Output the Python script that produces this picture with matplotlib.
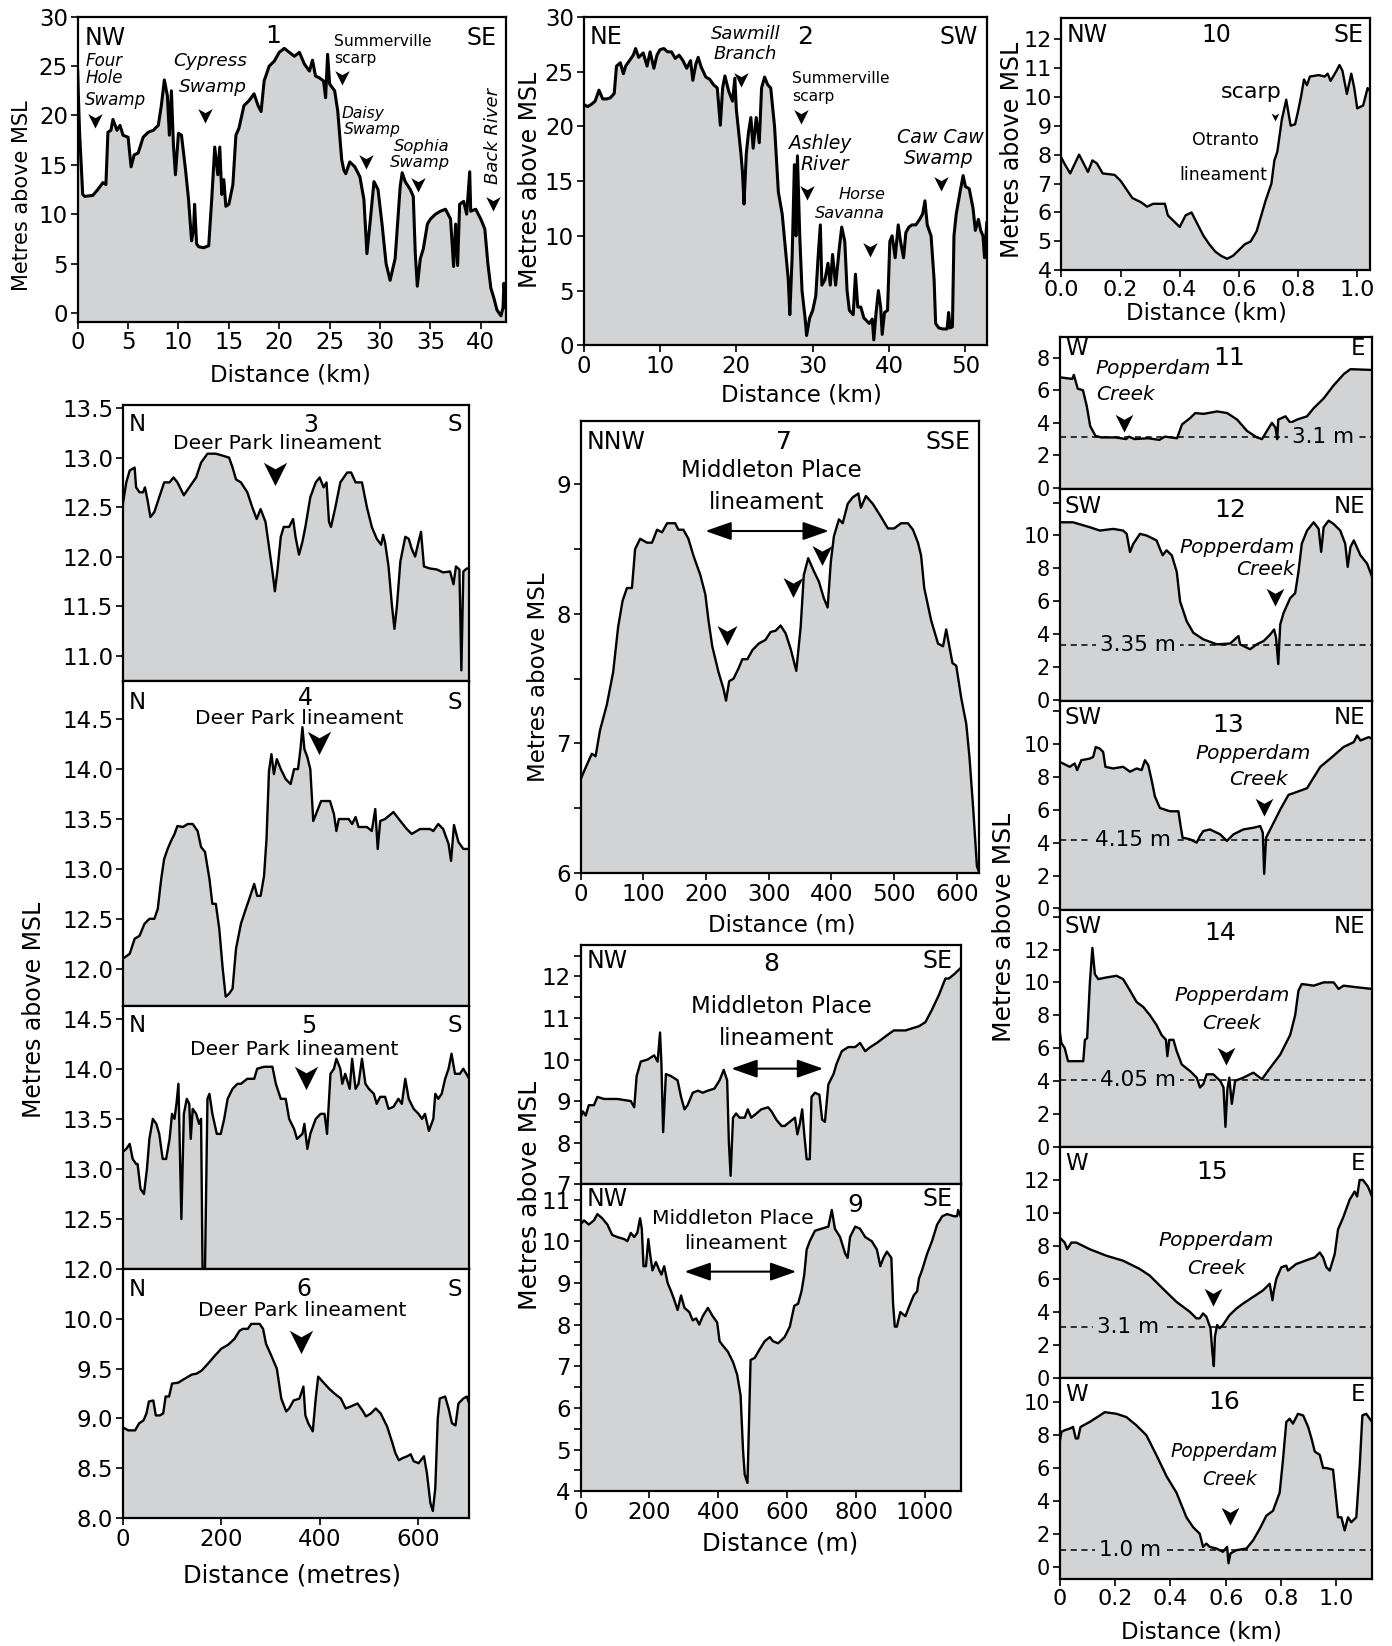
import matplotlib
matplotlib.use("Agg")
import matplotlib.pyplot as plt
from matplotlib.path import Path
from matplotlib.ticker import MultipleLocator, FormatStrFormatter

plt.rcParams['font.family'] = ['DejaVu Sans']

FILL = '#d1d3d4'

# elevation profiles: (distance, metres above MSL)
p1 = [(0, 24.5), (0.1, 21), (0.2, 18), (0.5, 12), (0.7, 11.8), (1.5, 11.9), (2.0, 12.5), (2.5, 13.2), (2.8, 13),
      (3.0, 18.3), (3.3, 18.5), (3.5, 19.6), (3.9, 18.5), (4.2, 19), (4.5, 18), (5.0, 17.8), (5.3, 14.8), (5.6, 16),
      (6.0, 16.2), (6.5, 17.8), (7.0, 18.3), (7.5, 18.5), (8.0, 19.0), (8.3, 21), (8.6, 23.6), (8.9, 22), (9.1, 18),
      (9.3, 22.5), (9.5, 17), (9.7, 14), (10.0, 18.2), (10.3, 18), (10.7, 14.5), (11.0, 11.5), (11.3, 7.3),
      (11.5, 8.5), (11.6, 11.0), (11.8, 7), (12.0, 6.7), (12.5, 6.6), (13.0, 6.8), (13.3, 11.5), (13.6, 16.8),
      (13.9, 14), (14.1, 16.8), (14.3, 12), (14.5, 13.5), (14.7, 10.8), (15.0, 11), (15.4, 13), (15.7, 18),
      (16.0, 18.7), (16.5, 21), (17.0, 21.5), (17.5, 22.2), (17.9, 21), (18.2, 20.4), (18.5, 23.5), (19.0, 25),
      (19.5, 25.5), (20.0, 26.4), (20.5, 26.8), (21.0, 26.4), (21.5, 26.0), (22.0, 26.4), (22.5, 25.2), (23.0, 24.5),
      (23.3, 25.6), (23.6, 24), (24.0, 23.8), (24.4, 23.5), (24.6, 21.8), (24.8, 26.2), (25.0, 23.2), (25.5, 22.5),
      (25.8, 20.5), (26.0, 18), (26.2, 15.5), (26.4, 14.5), (26.6, 14.1), (27.0, 15.3), (27.5, 14.8), (28.0, 13.8),
      (28.4, 11.5), (28.7, 6), (29.0, 9), (29.4, 13.3), (29.8, 12.5), (30.2, 9), (30.6, 5), (31.0, 3.3), (31.5, 5.5),
      (32.0, 12.8), (32.2, 14.2), (32.5, 13.3), (33.0, 12.5), (33.3, 11.8), (33.5, 6), (33.7, 2.7), (34.0, 5.5),
      (34.3, 6.5), (34.7, 9), (35.0, 9.5), (35.5, 10), (36.0, 10.3), (36.5, 10.5), (37.0, 9.5), (37.3, 4.7),
      (37.5, 9), (37.7, 4.8), (37.9, 11), (38.3, 11.3), (38.6, 10), (38.9, 14.3), (39.0, 10.3), (39.5, 10.5),
      (40.0, 9.5), (40.4, 8.5), (40.7, 5), (41.0, 2.5), (41.3, 1.5), (41.6, 0.3), (42.0, -0.3), (42.2, 0.5),
      (42.3, 3.0), (42.5, 0.5)]

p2 = [(0, 22), (0.5, 21.8), (1.0, 22), (1.5, 22.3), (2.0, 23.3), (2.5, 22.5), (3.0, 22.5), (3.5, 22.6), (4.0, 23),
      (4.3, 25.5), (4.8, 25.8), (5.2, 24.8), (5.5, 25.5), (6.0, 26), (6.5, 26.5), (6.8, 27.1), (7.2, 26.3),
      (7.8, 26.7), (8.3, 25.5), (8.7, 26.8), (9.2, 25.3), (9.6, 26.5), (10.0, 27), (10.5, 27.1), (11.0, 26.8),
      (11.5, 26.8), (12.0, 26.2), (12.5, 26.5), (13.0, 26), (13.5, 25.3), (14.0, 26), (14.3, 24.2), (14.7, 25.7),
      (15.0, 26.3), (15.4, 25.4), (16.0, 24.5), (16.5, 24.3), (17.0, 23.8), (17.5, 23.5), (17.9, 20.1), (18.2, 23.5),
      (18.5, 24.6), (19.0, 23.2), (19.5, 22.3), (19.8, 24.4), (20.0, 21.5), (20.3, 19.5), (20.6, 17.5), (20.8, 15.8),
      (21.0, 12.9), (21.3, 17.5), (21.6, 19.5), (21.9, 20.8), (22.2, 18), (22.6, 20.8), (23.0, 18.5), (23.3, 23.5),
      (23.7, 24.5), (24.1, 23.8), (24.5, 23.5), (25.0, 20), (25.5, 14), (26.0, 12), (26.4, 9), (26.8, 6), (27.0, 2.8),
      (27.3, 8), (27.6, 16.5), (27.8, 10), (28.0, 17.3), (28.3, 10), (28.6, 5), (29.0, 2.5), (29.2, 0.9), (29.6, 2.5),
      (30.0, 3.2), (30.4, 4.5), (30.7, 8), (31.0, 11), (31.2, 5.5), (31.6, 6), (32.0, 7.5), (32.3, 5.5), (32.6, 8.3),
      (33.0, 5.5), (33.5, 9), (33.8, 10.8), (34.2, 9.5), (34.5, 5), (34.8, 3.2), (35.3, 2.8), (35.6, 6.5),
      (35.9, 3.5), (36.3, 3.5), (36.7, 2.5), (37.0, 2.3), (37.4, 2), (37.8, 2.4), (38.0, 0.5), (38.3, 3), (38.6, 5),
      (38.9, 3.5), (39.1, 1), (39.4, 3), (39.8, 3.2), (40.1, 9.5), (40.4, 10), (40.8, 8), (41.2, 11), (41.5, 9.5),
      (41.9, 8), (42.2, 10.3), (42.6, 10.8), (43.0, 11), (43.5, 11), (44.0, 11.5), (44.4, 12), (44.7, 13.2),
      (45.0, 11), (45.5, 10), (45.9, 6), (46.1, 2), (46.5, 1.6), (47.0, 1.5), (47.6, 1.5), (47.8, 3), (48.0, 1.6),
      (48.3, 1.7), (48.5, 10), (48.8, 12), (49.3, 14), (49.7, 15.5), (50.0, 14.5), (50.5, 14.3), (51.0, 12.5),
      (51.3, 10.5), (51.7, 11.5), (52.0, 10.5), (52.3, 10), (52.5, 8), (52.8, 11.2)]

p3 = [(0, 12.53), (7, 12.75), (14, 12.87), (24, 12.9), (27, 12.7), (34, 12.65), (41, 12.65), (45, 12.7), (51, 12.55),
      (56, 12.4), (64, 12.45), (74, 12.6), (84, 12.75), (95, 12.75), (103, 12.8), (111, 12.75), (124, 12.62),
      (135, 12.7), (149, 12.8), (159, 12.95), (172, 13.04), (189, 13.04), (203, 13.02), (216, 13.0), (223, 12.9),
      (230, 12.78), (240, 12.75), (253, 12.65), (263, 12.5), (272, 12.38), (280, 12.48), (290, 12.35), (297, 12.1),
      (304, 11.85), (309, 11.65), (314, 11.85), (321, 12.2), (327, 12.3), (338, 12.3), (346, 12.38), (351, 12.2),
      (358, 12.02), (365, 12.15), (371, 12.3), (381, 12.6), (392, 12.75), (400, 12.8), (408, 12.7), (414, 12.75),
      (419, 12.35), (423, 12.3), (432, 12.5), (442, 12.75), (456, 12.85), (464, 12.85), (473, 12.75), (486, 12.75),
      (496, 12.5), (506, 12.3), (516, 12.18), (525, 12.12), (529, 12.22), (533, 12.14), (540, 11.9), (547, 11.5),
      (552, 11.27), (557, 11.5), (564, 11.95), (574, 12.2), (581, 12.18), (587, 12.08), (594, 12.0), (601, 12.15),
      (606, 12.25), (612, 11.9), (624, 11.88), (638, 11.87), (651, 11.84), (665, 11.85), (672, 11.72), (677, 11.9),
      (684, 11.87), (688, 10.85), (692, 11.85), (699, 11.88), (704, 11.88)]

p4 = [(0, 12.1), (14, 12.15), (24, 12.3), (34, 12.33), (44, 12.45), (54, 12.5), (64, 12.5), (71, 12.6), (78, 12.9),
      (84, 13.1), (91, 13.2), (98, 13.28), (105, 13.35), (111, 13.43), (122, 13.42), (132, 13.45), (142, 13.45),
      (152, 13.38), (159, 13.22), (167, 13.17), (176, 12.9), (182, 12.65), (189, 12.65), (196, 12.4), (203, 12.0),
      (209, 11.72), (216, 11.75), (223, 11.8), (230, 12.2), (240, 12.45), (250, 12.6), (257, 12.7), (267, 12.85),
      (273, 12.73), (280, 12.73), (287, 12.93), (292, 13.3), (297, 13.98), (302, 14.15), (307, 13.95), (313, 14.1),
      (321, 14.0), (331, 13.9), (341, 13.85), (348, 14.0), (356, 14.0), (361, 14.2), (365, 14.42), (369, 14.2),
      (375, 14.12), (381, 14.0), (387, 13.48), (395, 13.58), (403, 13.68), (412, 13.68), (421, 13.68), (429, 13.55),
      (434, 13.38), (439, 13.5), (459, 13.5), (466, 13.45), (473, 13.52), (479, 13.42), (496, 13.42), (506, 13.38),
      (513, 13.6), (518, 13.2), (523, 13.48), (533, 13.5), (550, 13.57), (564, 13.48), (577, 13.4), (587, 13.35),
      (604, 13.4), (624, 13.4), (631, 13.38), (641, 13.45), (651, 13.4), (662, 13.25), (667, 13.08), (673, 13.44),
      (682, 13.27), (692, 13.2), (704, 13.2)]

p5 = [(0, 13.17), (7, 13.2), (14, 13.25), (20, 13.1), (27, 13.05), (30, 13.05), (36, 12.8), (43, 12.75), (49, 13.0),
      (54, 13.3), (61, 13.5), (68, 13.45), (74, 13.35), (81, 13.1), (88, 13.1), (95, 13.3), (100, 13.55), (105, 13.5),
      (109, 13.65), (113, 13.85), (119, 12.5), (124, 13.55), (130, 13.7), (135, 13.65), (138, 13.3), (142, 13.6),
      (149, 13.55), (155, 13.45), (159, 13.5), (162, 12.0), (167, 12.0), (172, 13.7), (176, 13.75), (182, 13.55),
      (191, 13.35), (199, 13.35), (206, 13.5), (213, 13.7), (223, 13.8), (233, 13.85), (240, 13.85), (253, 13.9),
      (267, 13.9), (273, 14.0), (287, 14.02), (304, 14.02), (311, 13.85), (321, 13.7), (331, 13.7), (338, 13.5),
      (348, 13.4), (354, 13.3), (365, 13.35), (369, 13.45), (375, 13.2), (381, 13.35), (392, 13.5), (402, 13.55),
      (410, 13.55), (415, 13.35), (422, 13.95), (429, 14.0), (434, 14.1), (442, 14.0), (446, 13.85), (452, 13.95),
      (461, 13.8), (466, 14.1), (473, 13.8), (479, 13.85), (486, 14.1), (493, 13.85), (500, 13.8), (510, 13.75),
      (516, 13.65), (523, 13.72), (533, 13.72), (540, 13.6), (550, 13.62), (560, 13.7), (567, 13.65), (574, 13.9),
      (581, 13.7), (591, 13.6), (601, 13.55), (608, 13.5), (614, 13.55), (622, 13.38), (631, 13.5), (635, 13.75),
      (641, 13.7), (648, 13.75), (655, 13.9), (662, 14.0), (668, 14.15), (675, 13.95), (685, 13.95), (692, 14.0),
      (704, 13.9)]

p6 = [(0, 8.91), (11, 8.88), (25, 8.88), (33, 8.95), (42, 8.98), (48, 9.05), (53, 9.17), (62, 9.18), (67, 9.03),
      (75, 9.03), (82, 9.05), (87, 9.22), (94, 9.22), (100, 9.35), (113, 9.36), (126, 9.4), (140, 9.44), (150, 9.45),
      (160, 9.48), (173, 9.55), (187, 9.63), (200, 9.7), (214, 9.74), (227, 9.8), (237, 9.88), (244, 9.9), (254, 9.9),
      (261, 9.95), (278, 9.95), (285, 9.9), (291, 9.75), (300, 9.65), (313, 9.5), (322, 9.2), (332, 9.07), (338, 9.1),
      (347, 9.18), (359, 9.2), (367, 9.32), (371, 9.03), (377, 8.95), (386, 8.87), (392, 9.2), (397, 9.42),
      (406, 9.37), (419, 9.3), (430, 9.25), (443, 9.2), (453, 9.1), (463, 9.12), (477, 9.15), (487, 9.08),
      (494, 9.02), (504, 9.05), (514, 9.1), (524, 9.05), (537, 8.92), (548, 8.75), (554, 8.65), (561, 8.58),
      (568, 8.6), (578, 8.62), (585, 8.64), (591, 8.57), (601, 8.55), (612, 8.62), (618, 8.45), (625, 8.15),
      (630, 8.07), (635, 8.3), (640, 9.0), (644, 9.2), (655, 9.22), (662, 9.1), (669, 8.95), (676, 8.93), (682, 9.15),
      (692, 9.2), (699, 9.22), (704, 9.15)]

p7 = [(0, 6.72), (7, 6.8), (18, 6.92), (24, 6.9), (31, 7.1), (42, 7.3), (52, 7.55), (60, 7.9), (67, 8.1), (74, 8.2),
      (82, 8.2), (87, 8.5), (95, 8.58), (106, 8.55), (114, 8.55), (122, 8.65), (130, 8.63), (138, 8.7), (151, 8.7),
      (156, 8.65), (164, 8.65), (172, 8.58), (180, 8.45), (191, 8.3), (199, 8.15), (204, 7.95), (210, 7.75),
      (220, 7.55), (228, 7.42), (232, 7.33), (237, 7.48), (244, 7.5), (252, 7.58), (258, 7.65), (266, 7.65),
      (274, 7.72), (284, 7.77), (295, 7.8), (303, 7.86), (311, 7.87), (319, 7.91), (327, 7.85), (335, 7.73),
      (344, 7.56), (351, 7.9), (356, 8.3), (363, 8.43), (372, 8.33), (380, 8.25), (388, 8.12), (394, 8.05), (399, 8.4),
      (404, 8.6), (412, 8.73), (418, 8.7), (426, 8.85), (434, 8.9), (443, 8.93), (447, 8.82), (455, 8.91),
      (466, 8.85), (479, 8.75), (490, 8.66), (500, 8.66), (511, 8.7), (522, 8.7), (530, 8.65), (538, 8.55),
      (543, 8.45), (548, 8.2), (559, 7.95), (570, 7.77), (578, 7.75), (583, 7.88), (588, 7.75), (593, 7.62),
      (599, 7.6), (607, 7.35), (615, 7.15), (620, 6.9), (626, 6.5), (632, 6.05), (636, 6.0)]

p8 = [(0, 8.6), (7, 8.75), (15, 8.65), (24, 8.9), (39, 8.9), (49, 9.1), (68, 9.05), (107, 9.05), (146, 9.0),
      (156, 8.85), (163, 9.6), (175, 9.95), (195, 10.0), (214, 10.1), (224, 9.95), (231, 10.65), (235, 9.9),
      (240, 8.25), (248, 9.65), (263, 9.6), (282, 9.5), (292, 9.1), (302, 8.8), (311, 8.9), (326, 9.2), (341, 9.25),
      (355, 9.2), (370, 9.25), (389, 9.3), (404, 9.5), (416, 9.75), (426, 9.5), (431, 8.0), (436, 7.2), (443, 8.6),
      (452, 8.7), (462, 8.6), (477, 8.6), (486, 8.8), (496, 8.6), (511, 8.7), (525, 8.8), (545, 8.85), (555, 8.75),
      (569, 8.55), (584, 8.4), (593, 8.4), (608, 8.5), (623, 8.6), (630, 8.2), (637, 8.45), (644, 8.8), (650, 8.2),
      (657, 7.6), (666, 7.6), (671, 9.1), (681, 9.2), (694, 9.15), (702, 8.55), (710, 8.5), (720, 9.4), (735, 9.65),
      (744, 9.9), (759, 10.2), (778, 10.3), (798, 10.3), (812, 10.4), (827, 10.2), (842, 10.3), (861, 10.4),
      (885, 10.55), (910, 10.7), (924, 10.7), (944, 10.7), (963, 10.75), (983, 10.8), (1002, 10.9), (1021, 11.2),
      (1041, 11.55), (1060, 11.95), (1070, 11.95), (1085, 12.05), (1104, 12.2)]

p9 = [(0, 10.4), (10, 10.5), (24, 10.4), (39, 10.5), (49, 10.65), (63, 10.55), (78, 10.4), (92, 10.15), (107, 10.1),
      (127, 10.05), (136, 10.0), (146, 10.2), (156, 10.1), (165, 10.2), (173, 10.55), (178, 10.3), (183, 9.4),
      (190, 9.4), (197, 10.05), (202, 9.7), (209, 9.3), (219, 9.5), (229, 9.3), (235, 9.2), (243, 9.4), (253, 9.0),
      (263, 8.8), (272, 8.6), (282, 8.35), (292, 8.7), (302, 8.4), (316, 8.3), (326, 8.1), (336, 8.15), (345, 8.0),
      (355, 8.2), (370, 8.4), (384, 8.2), (397, 8.05), (404, 7.6), (413, 7.5), (428, 7.35), (443, 7.1), (455, 6.8),
      (465, 6.3), (472, 5.0), (477, 4.4), (485, 4.2), (489, 5.5), (494, 7.15), (506, 7.2), (520, 7.4), (535, 7.6),
      (550, 7.7), (559, 7.6), (574, 7.55), (593, 7.7), (608, 7.95), (621, 8.45), (632, 8.5), (642, 8.8), (650, 9.2),
      (657, 9.8), (666, 10.0), (681, 10.25), (700, 10.3), (720, 10.35), (730, 10.75), (739, 10.3), (754, 10.1),
      (769, 9.7), (776, 9.6), (783, 10.1), (798, 10.35), (812, 10.3), (827, 10.1), (846, 10.0), (861, 9.8),
      (871, 9.4), (880, 9.6), (890, 9.75), (903, 9.6), (908, 8.5), (913, 7.95), (919, 7.95), (929, 8.3), (944, 8.2),
      (953, 8.4), (968, 8.7), (978, 8.8), (983, 9.1), (992, 9.3), (1007, 9.7), (1021, 10.0), (1036, 10.4),
      (1051, 10.6), (1065, 10.65), (1085, 10.6), (1094, 10.6), (1097, 10.75), (1104, 10.6)]

p10 = [(0, 7.9), (0.01, 7.7), (0.03, 7.35), (0.06, 8.0), (0.08, 7.6), (0.09, 7.4), (0.105, 7.8), (0.12, 7.7),
       (0.14, 7.35), (0.18, 7.3), (0.2, 7.1), (0.22, 6.8), (0.24, 6.5), (0.27, 6.35), (0.29, 6.2), (0.31, 6.3),
       (0.35, 6.3), (0.36, 5.9), (0.38, 5.7), (0.40, 5.5), (0.42, 5.9), (0.44, 6.0), (0.46, 5.6), (0.48, 5.2),
       (0.50, 4.9), (0.52, 4.65), (0.54, 4.5), (0.56, 4.4), (0.58, 4.5), (0.60, 4.7), (0.62, 4.9), (0.64, 5.0),
       (0.66, 5.35), (0.67, 5.7), (0.69, 6.4), (0.71, 7.0), (0.72, 7.8), (0.73, 8.1), (0.745, 9.2), (0.76, 9.9),
       (0.775, 9.0), (0.79, 9.05), (0.80, 9.5), (0.81, 10.0), (0.82, 10.6), (0.83, 10.4), (0.84, 10.7), (0.87, 10.75),
       (0.89, 10.7), (0.90, 10.8), (0.91, 10.55), (0.93, 10.9), (0.94, 11.1), (0.95, 10.9), (0.965, 10.1),
       (0.98, 10.8), (0.99, 10.3), (1.00, 9.6), (1.02, 9.7), (1.035, 10.3), (1.043, 10.2)]

p11 = [(0, 6.8), (0.045, 6.7), (0.051, 6.95), (0.065, 6.1), (0.084, 6.0), (0.098, 5.0), (0.11, 3.8), (0.129, 3.2),
       (0.15, 3.1), (0.2, 3.1), (0.24, 3.0), (0.25, 3.15), (0.27, 3.0), (0.32, 3.05), (0.36, 2.95), (0.38, 3.15),
       (0.424, 3.05), (0.442, 3.9), (0.472, 4.3), (0.49, 4.6), (0.52, 4.55), (0.569, 4.7), (0.605, 4.6), (0.641, 4.2),
       (0.677, 3.5), (0.713, 3.1), (0.731, 3.0), (0.749, 3.5), (0.767, 4.0), (0.78, 3.7), (0.786, 3.0), (0.79, 4.2),
       (0.816, 4.4), (0.834, 4.0), (0.858, 4.2), (0.894, 4.4), (0.918, 4.9), (0.954, 5.5), (0.99, 6.3), (1.027, 7.0),
       (1.051, 7.3), (1.129, 7.25)]

p12 = [(0, 10.8), (0.048, 10.8), (0.109, 10.5), (0.145, 10.3), (0.193, 10.4), (0.229, 10.3), (0.242, 10.1),
       (0.254, 9.0), (0.266, 9.5), (0.290, 10.1), (0.314, 10.0), (0.350, 9.7), (0.362, 9.2), (0.372, 8.8),
       (0.386, 9.1), (0.405, 8.8), (0.423, 7.8), (0.435, 6.0), (0.459, 4.8), (0.483, 4.1), (0.519, 3.7), (0.568, 3.4),
       (0.616, 3.45), (0.646, 3.9), (0.652, 3.4), (0.688, 3.1), (0.712, 3.4), (0.737, 3.6), (0.761, 4.0), (0.775, 4.3),
       (0.782, 3.8), (0.790, 2.2), (0.797, 4.6), (0.809, 5.3), (0.833, 6.2), (0.851, 6.5), (0.863, 7.8), (0.875, 9.5),
       (0.894, 10.3), (0.918, 10.8), (0.936, 10.4), (0.945, 9.0), (0.954, 10.5), (0.972, 10.9), (0.990, 10.7),
       (1.014, 10.3), (1.032, 9.5), (1.041, 8.1), (1.051, 9.3), (1.063, 9.7), (1.087, 8.8), (1.111, 8.3), (1.129, 7.5)]

p13 = [(0, 8.9), (0.036, 8.6), (0.054, 8.8), (0.063, 8.4), (0.078, 9.0), (0.109, 9.1), (0.121, 9.2), (0.130, 9.8),
       (0.145, 9.7), (0.157, 9.5), (0.165, 8.6), (0.193, 8.5), (0.229, 8.6), (0.254, 8.3), (0.278, 8.5), (0.296, 8.4),
       (0.308, 9.0), (0.320, 8.7), (0.332, 7.8), (0.344, 6.8), (0.362, 6.1), (0.398, 5.9), (0.429, 5.9), (0.437, 5.0),
       (0.444, 4.3), (0.471, 4.2), (0.495, 4.0), (0.507, 4.4), (0.519, 4.7), (0.543, 4.8), (0.580, 4.5), (0.604, 4.1),
       (0.628, 4.5), (0.664, 4.8), (0.700, 4.9), (0.725, 5.0), (0.734, 4.6), (0.739, 2.1), (0.746, 4.3), (0.767, 5.0),
       (0.797, 6.0), (0.827, 6.9), (0.845, 7.0), (0.894, 7.3), (0.942, 8.6), (0.978, 9.1), (1.026, 9.8), (1.063, 10.1),
       (1.075, 10.5), (1.087, 10.2), (1.117, 10.4), (1.129, 10.3)]

p14 = [(0, 7.0), (0.006, 6.3), (0.018, 6.0), (0.030, 5.2), (0.085, 5.2), (0.091, 6.5), (0.099, 6.6), (0.109, 10.0),
       (0.118, 12.1), (0.127, 10.5), (0.139, 10.2), (0.169, 10.3), (0.205, 10.4), (0.229, 10.2), (0.254, 9.5),
       (0.278, 8.8), (0.302, 8.5), (0.326, 8.0), (0.350, 7.4), (0.368, 6.8), (0.384, 6.5), (0.389, 5.5), (0.396, 6.5),
       (0.411, 6.5), (0.423, 5.8), (0.441, 5.0), (0.471, 4.6), (0.495, 4.2), (0.507, 3.6), (0.519, 3.8), (0.531, 4.4),
       (0.555, 4.4), (0.580, 4.0), (0.592, 3.6), (0.599, 1.2), (0.606, 3.5), (0.613, 4.2), (0.622, 2.6), (0.634, 4.0),
       (0.664, 4.2), (0.700, 4.5), (0.731, 4.1), (0.761, 4.8), (0.797, 5.6), (0.833, 6.8), (0.851, 8.0), (0.863, 9.5),
       (0.875, 9.9), (0.918, 9.8), (0.954, 10.0), (0.990, 10.0), (1.008, 9.6), (1.026, 9.8), (1.075, 9.7),
       (1.129, 9.6)]

p15 = [(0, 8.5), (0.018, 8.2), (0.027, 7.8), (0.042, 8.2), (0.060, 8.2), (0.108, 7.8), (0.169, 7.4), (0.229, 7.1),
       (0.289, 6.6), (0.325, 6.2), (0.373, 5.4), (0.422, 4.6), (0.470, 4.0), (0.494, 3.6), (0.506, 3.6), (0.518, 3.9),
       (0.530, 3.7), (0.545, 3.0), (0.552, 1.5), (0.557, 0.7), (0.561, 2.5), (0.569, 3.2), (0.578, 3.0), (0.590, 3.2),
       (0.614, 3.8), (0.639, 4.2), (0.663, 4.5), (0.699, 4.9), (0.735, 5.3), (0.759, 5.7), (0.769, 4.7), (0.773, 5.2),
       (0.783, 6.0), (0.801, 6.7), (0.819, 6.8), (0.825, 6.5), (0.855, 6.9), (0.904, 7.2), (0.922, 7.3), (0.940, 7.6),
       (0.952, 7.3), (0.964, 6.7), (0.976, 6.5), (0.994, 7.5), (1.006, 9.0), (1.024, 9.7), (1.048, 10.8),
       (1.066, 11.3), (1.075, 11.0), (1.084, 12.0), (1.096, 12.0), (1.114, 11.6), (1.129, 11.0)]

p16 = [(0, 7.6), (0.006, 8.2), (0.018, 8.3), (0.036, 8.4), (0.048, 8.5), (0.058, 7.8), (0.066, 7.8), (0.075, 8.5),
       (0.108, 8.8), (0.145, 9.2), (0.163, 9.4), (0.205, 9.3), (0.241, 9.1), (0.277, 8.6), (0.313, 8.0), (0.349, 6.8),
       (0.386, 5.5), (0.422, 4.5), (0.458, 3.0), (0.482, 2.4), (0.506, 2.0), (0.518, 1.2), (0.530, 1.4), (0.542, 1.2),
       (0.566, 1.1), (0.590, 0.9), (0.605, 1.2), (0.610, 0.2), (0.617, 0.8), (0.639, 1.0), (0.675, 1.1), (0.699, 1.6),
       (0.723, 2.3), (0.747, 3.1), (0.771, 3.4), (0.795, 4.5), (0.807, 6.5), (0.819, 8.8), (0.831, 9.0), (0.843, 8.7),
       (0.861, 9.3), (0.880, 9.2), (0.898, 8.5), (0.910, 7.8), (0.922, 7.0), (0.940, 6.8), (0.952, 6.0), (0.964, 6.0),
       (0.988, 5.9), (1.006, 3.0), (1.018, 3.0), (1.030, 2.2), (1.042, 3.0), (1.054, 2.7), (1.072, 3.0), (1.084, 6.0),
       (1.094, 9.2), (1.108, 9.3), (1.129, 8.8)]

# notched arrowhead pointing down
chevron = Path([(0, -1), (-0.8, 0.6), (0, 0.15), (0.8, 0.6), (0, -1)],
               [Path.MOVETO, Path.LINETO, Path.LINETO, Path.LINETO, Path.CLOSEPOLY])

fig = plt.figure(figsize=(13.92, 16.46), dpi=100)


def box(l, t, r, b):
    return [l / 1326, 1 - b / 1568, (r - l) / 1326, (b - t) / 1568]


def panel(rect, pts, xlim, ylim, lw=1.7, labelsize=16.5):
    ax = fig.add_axes(rect)
    xs = [p[0] for p in pts]
    ys = [p[1] for p in pts]
    ax.fill_between(xs, ys, ylim[0] - 50, color=FILL, lw=0)
    ax.plot(xs, ys, color='k', lw=lw, solid_joinstyle='round')
    ax.set_xlim(*xlim)
    ax.set_ylim(*ylim)
    for s in ax.spines.values():
        s.set_linewidth(1.6)
    ax.tick_params(which='both', direction='out', length=5, width=1.2, labelsize=labelsize, pad=2)
    return ax


def no_x(ax):
    ax.tick_params(axis='x', which='both', bottom=False, labelbottom=False)


def ends(ax, left, right, y, size=17):
    ax.text(0.016, y, left, transform=ax.transAxes, ha='left', va='center', fontsize=size)
    ax.text(0.978, y, right, transform=ax.transAxes, ha='right', va='center', fontsize=size)


def number(ax, x, y, s, size=18):
    ax.text(x, y, s, transform=ax.get_xaxis_transform(), ha='center', va='center', fontsize=size)


def head(ax, x, y, ms):
    ax.plot([x], [y], marker=chevron, ms=ms, color='k', ls='none', mew=0)


def note(ax, x, y, s, size, italic=False, ha='center', rot=0):
    ax.text(x, y, s, ha=ha, va='center', fontsize=size, rotation=rot,
            style='italic' if italic else 'normal')


def both_arrow(ax, x1, x2, y):
    ax.annotate('', xy=(x2, y), xytext=(x1, y),
                arrowprops=dict(arrowstyle='<|-|>,head_length=0.8,head_width=0.28', color='k',
                                lw=1.5, mutation_scale=20, shrinkA=0, shrinkB=0))


def dashed(ax, level, label, lx, size=15.5):
    ax.axhline(level, color='k', lw=1.1, ls=(0, (4, 3)))
    ax.text(lx, level, label, ha='center', va='center', fontsize=size,
            bbox=dict(fc=FILL, ec='none', pad=3.0))


# ---- profile 1
ax = panel(box(74, 16, 482, 306.5), p1, (0, 42.5), (-0.9, 30), lw=2.2)
ax.set_xticks(range(0, 45, 5))
ax.set_yticks(range(0, 35, 5))
ends(ax, 'NW', 'SE', 0.93)
number(ax, 19.4, 0.937, '1')
note(ax, 0.75, 25.5, 'Four', 12, True, 'left')
note(ax, 0.75, 23.8, 'Hole', 12, True, 'left')
note(ax, 0.75, 21.6, 'Swamp', 12, True, 'left')
head(ax, 1.7, 19.6, 13)
note(ax, 13.1, 25.5, 'Cypress', 13.3, True)
note(ax, 13.4, 22.9, 'Swamp', 13.3, True)
head(ax, 12.6, 20.2, 13)
note(ax, 25.4, 27.5, 'Summerville', 11.2, False, 'left')
note(ax, 25.5, 25.8, 'scarp', 11.2, False, 'left')
head(ax, 26.2, 24.0, 13)
note(ax, 26.2, 20.2, 'Daisy', 11.2, True, 'left')
note(ax, 26.4, 18.6, 'Swamp', 11.2, True, 'left')
head(ax, 28.6, 15.5, 13)
note(ax, 34.1, 16.9, 'Sophia', 11.8, True)
note(ax, 34.0, 15.2, 'Swamp', 11.8, True)
head(ax, 33.8, 13.2, 13)
note(ax, 41.2, 17.9, 'Back River', 13, True, rot=90)
head(ax, 41.2, 11.2, 13)
fig.text(0.0156, 0.881, 'Metres above MSL', rotation=90, ha='center', va='center', fontsize=15)
fig.text(0.2089, 0.7722, 'Distance (km)', ha='center', va='center', fontsize=16.5)

# ---- profile 2
ax = panel(box(556, 16, 940, 329), p2, (0, 52.8), (0, 30), lw=2.2)
ax.set_xticks(range(0, 60, 10))
ax.set_yticks(range(0, 35, 5))
ends(ax, 'NE', 'SW', 0.938)
number(ax, 29, 0.938, '2')
note(ax, 21.2, 28.45, 'Sawmill', 13, True)
note(ax, 21.1, 26.6, 'Branch', 13, True)
head(ax, 20.6, 24.4, 13)
note(ax, 27.3, 24.35, 'Summerville', 11.2, False, 'left')
note(ax, 27.3, 22.7, 'scarp', 11.2, False, 'left')
head(ax, 28.4, 21.0, 13)
note(ax, 31.0, 18.4, 'Ashley', 13.5, True)
note(ax, 31.6, 16.5, 'River', 13.5, True)
head(ax, 29.2, 14.1, 13)
note(ax, 39.5, 13.75, 'Horse', 11.6, True, 'right')
note(ax, 39.5, 12.05, 'Savanna', 11.6, True, 'right')
head(ax, 37.5, 8.9, 13)
note(ax, 46.7, 19.0, 'Caw Caw', 13.7, True)
note(ax, 46.5, 17.1, 'Swamp', 13.7, True)
head(ax, 46.8, 14.9, 13)
fig.text(0.3807, 0.891, 'Metres above MSL', rotation=90, ha='center', va='center', fontsize=17)
fig.text(0.5759, 0.7602, 'Distance (km)', ha='center', va='center', fontsize=16.5)

# ---- profile 10
ax = panel(box(1011, 17, 1305, 257.5), p10, (0, 1.043), (4, 12.73), labelsize=16)
ax.set_xticks([0, 0.2, 0.4, 0.6, 0.8, 1.0])
ax.xaxis.set_major_formatter(FormatStrFormatter('%.1f'))
ax.set_yticks(range(4, 13))
ends(ax, 'NW', 'SE', 0.934)
number(ax, 0.525, 0.934, '10', 17)
note(ax, 0.641, 10.18, 'scarp', 16)
head(ax, 0.723, 9.32, 7)
note(ax, 0.555, 8.51, 'Otranto', 12.5)
note(ax, 0.549, 7.29, 'lineament', 12.5)
fig.text(0.727, 0.909, 'Metres above MSL', rotation=90, ha='center', va='center', fontsize=17)
fig.text(0.8669, 0.8098, 'Distance (km)', ha='center', va='center', fontsize=16.5)

# ---- profiles 3-6 (Deer Park lineament)
left_col = [
    (p3, 386, 649, (10.74, 13.53), [11.0, 11.5, 12.0, 12.5, 13.0, 13.5], '3', 381, 0.93, 314, 13.14, 310, 12.87),
    (p4, 649, 958, (11.63, 14.88), [12.0, 12.5, 13.0, 13.5, 14.0, 14.5], '4', 371, 0.948, 359, 14.51, 398, 14.29),
    (p5, 958, 1209, (12.0, 14.63), [12.0, 12.5, 13.0, 13.5, 14.0, 14.5], '5', 378, 0.924, 348, 14.19, 373, 13.94),
    (p6, 1209, 1446, (8.0, 10.5), [8.0, 8.5, 9.0, 9.5, 10.0], '6', 367, 0.919, 365, 10.08, 362, 9.8),
]
for pts, t, b, ylim, yt, num, nx, ny, tx, ty, hx, hy in left_col:
    ax = panel(box(117, t, 447, b), pts, (0, 704), ylim, labelsize=16.5)
    ax.set_yticks(yt)
    ax.yaxis.set_major_formatter(FormatStrFormatter('%.1f'))
    ends(ax, 'N', 'S', min(ny, 0.935), 16.5)
    number(ax, nx, ny, num, 17)
    note(ax, tx, ty, 'Deer Park lineament', 14.6)
    head(ax, hx, hy, 21)
    if num == '6':
        ax.set_xticks([0, 200, 400, 600])
    else:
        no_x(ax)
fig.text(0.0244, 0.3865, 'Metres above MSL', rotation=90, ha='center', va='center', fontsize=17)
fig.text(0.21, 0.0426, 'Distance (metres)', ha='center', va='center', fontsize=17.5)

# ---- profile 7 (Middleton Place)
ax = panel(box(553, 401, 933, 831.5), p7, (0, 636), (6.0, 9.49), labelsize=16.5)
ax.set_xticks(range(0, 700, 100))
ax.set_yticks([6, 7, 8, 9])
ax.yaxis.set_minor_locator(MultipleLocator(0.5))
ends(ax, 'NNW', 'SSE', 0.954)
number(ax, 324, 0.954, '7')
note(ax, 305, 9.11, 'Middleton Place', 16.5)
note(ax, 297, 8.86, 'lineament', 16.5)
both_arrow(ax, 199, 396, 8.64)
head(ax, 234, 7.85, 18)
head(ax, 338, 8.22, 18)
head(ax, 385, 8.47, 18)
fig.text(0.3867, 0.5887, 'Metres above MSL', rotation=90, ha='center', va='center', fontsize=16.5)
fig.text(0.5615, 0.438, 'Distance (m)', ha='center', va='center', fontsize=16.5)

# ---- profile 8
ax = panel(box(553, 900.5, 915, 1128), p8, (0, 1104), (7, 12.75), labelsize=16.5)
ax.set_yticks(range(7, 13))
ax.yaxis.set_minor_locator(MultipleLocator(0.5))
no_x(ax)
ends(ax, 'NW', 'SE', 0.933)
number(ax, 554, 0.923, '8')
note(ax, 584, 11.28, 'Middleton Place', 16.5)
note(ax, 569, 10.5, 'lineament', 16.5)
both_arrow(ax, 438, 705, 9.78)

# ---- profile 9
ax = panel(box(553, 1128, 915, 1420.6), p9, (0, 1104), (4, 11.37), labelsize=16.5)
ax.set_xticks(range(0, 1200, 200))
ax.set_yticks(range(4, 12))
ax.yaxis.set_minor_locator(MultipleLocator(0.5))
ends(ax, 'NW', 'SE', 0.95)
number(ax, 798, 0.931, '9')
note(ax, 443, 10.54, 'Middleton Place', 14.7)
note(ax, 452, 9.94, 'lineament', 14.7)
both_arrow(ax, 302, 627, 9.27)
fig.text(0.3807, 0.2736, 'Metres above MSL', rotation=90, ha='center', va='center', fontsize=18)
fig.text(0.5603, 0.0625, 'Distance (m)', ha='center', va='center', fontsize=17.5)

# ---- profiles 11-16 (Popperdam Creek)
right_col = [
    (p11, 321, 465.5, (-0.05, 9.28), [0, 2, 4, 6, 8], 8, 'W', 'E', '11', 0.613, 0.862, 0.924,
     3.1, '3.1 m', 0.951, (0.336, 7.35), (0.237, 5.73), (0.231, 4.1)),
    (p12, 465.5, 668, (-0.05, 12.84), [0, 2, 4, 6, 8, 10, 12], 10, 'SW', 'NE', '12', 0.616, 0.898, 0.918,
     3.35, '3.35 m', 0.284, (0.64, 9.29), (0.743, 7.92), (0.779, 6.4)),
    (p13, 668, 867, (-0.1, 12.58), [0, 2, 4, 6, 8, 10, 12], 10, 'SW', 'NE', '13', 0.61, 0.886, 0.921,
     4.15, '4.15 m', 0.266, (0.70, 9.42), (0.718, 7.84), (0.74, 6.26)),
    (p14, 867, 1093, (-0.05, 14.4), [0, 2, 4, 6, 8, 10, 12, 14], 12, 'SW', 'NE', '14', 0.58, 0.903, 0.93,
     4.05, '4.05 m', 0.284, (0.622, 9.18), (0.622, 7.52), (0.60, 5.62)),
    (p15, 1093, 1313, (-0.04, 13.98), [0, 2, 4, 6, 8, 10, 12], 12, 'W', 'E', '15', 0.552, 0.894, 0.93,
     3.1, '3.1 m', 0.247, (0.566, 8.35), (0.566, 6.6), (0.554, 5.0)),
    (p16, 1313, 1504.4, (-0.77, 11.46), [0, 2, 4, 6, 8, 10], 10, 'W', 'E', '16', 0.596, 0.884, 0.917,
     1.0, '1.0 m', 0.253, (0.596, 7.0), (0.614, 5.3), (0.614, 3.2)),
]
for (pts, t, b, ylim, yt, ymaxlab, lft, rgt, num, nx, ny, ey,
     lvl, lvl_lab, lvl_x, pop, crk, hd) in right_col:
    ax = panel(box(1009.5, t, 1307, b), pts, (0, 1.129), ylim, labelsize=15)
    ax.set_yticks(yt)
    ax.set_yticklabels([str(v) if v <= ymaxlab else '' for v in yt])
    ends(ax, lft, rgt, ey, 16.5)
    number(ax, nx, ny, num, 18)
    dashed(ax, lvl, lvl_lab, lvl_x)
    size = 13.5 if num == '16' else 14.5
    note(ax, pop[0], pop[1], 'Popperdam', size, True)
    note(ax, crk[0], crk[1], 'Creek', size, True)
    head(ax, hd[0], hd[1], 16)
    if num == '16':
        ax.set_xticks([0, 0.2, 0.4, 0.6, 0.8, 1.0])
        ax.set_xticklabels(['0', '0.2', '0.4', '0.6', '0.8', '1.0'])
        ax.tick_params(axis='x', labelsize=16)
    else:
        no_x(ax)
fig.text(0.7213, 0.4364, 'Metres above MSL', rotation=90, ha='center', va='center', fontsize=18)
fig.text(0.8633, 0.0087, 'Distance (km)', ha='center', va='center', fontsize=16.5)

fig.savefig('out.png', dpi=100)
